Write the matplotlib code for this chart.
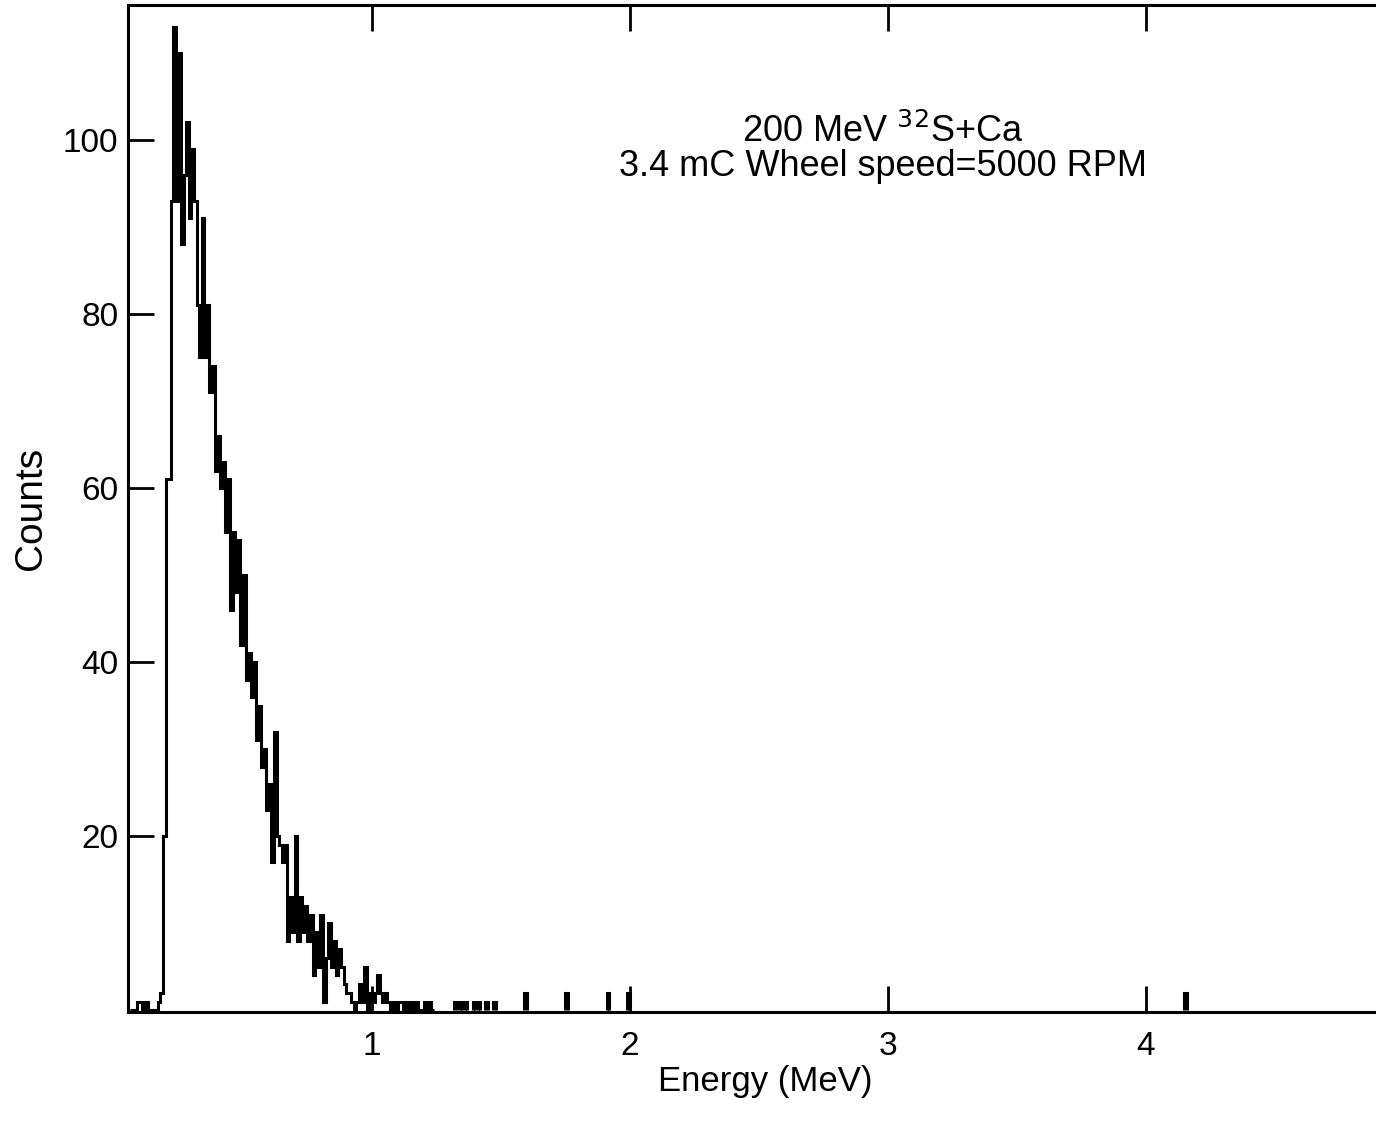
import numpy as np
import matplotlib.pyplot as plt

plt.rcParams['font.family'] = ['Liberation Sans', 'DejaVu Sans']

# histogram of counts, 0.01 MeV bins starting at 0.06 MeV
bin_start = 0.06
bin_width = 0.01
counts = [
    0, 0, 0, 1, 1, 0, 1, 0, 0, 0,          # 0.06 - 0.16
    0, 1, 2, 20, 61, 61, 93, 113, 93, 110,  # 0.16 - 0.26
    88, 96, 102, 91, 99, 93, 81, 75, 91, 75,  # 0.26 - 0.36
    81, 71, 74, 62, 66, 60, 63, 55, 61, 46,   # 0.36 - 0.46
    55, 48, 54, 42, 50, 38, 41, 36, 40, 31,   # 0.46 - 0.56
    35, 28, 30, 23, 26, 17, 32, 20, 19, 17,   # 0.56 - 0.66
    19, 8, 13, 9, 20, 8, 13, 9, 12, 8,        # 0.66 - 0.76
    11, 4, 9, 5, 11, 1, 6, 10, 5, 8,          # 0.76 - 0.86
    4, 7, 5, 3, 2, 2, 1, 0, 1, 3,             # 0.86 - 0.96
    1, 5, 0, 2, 1, 2, 4, 2, 1, 2,             # 0.96 - 1.06
    1, 0, 1, 0, 1, 1, 0, 1, 0, 1,             # 1.06 - 1.16
    0, 1, 0, 0, 1, 0, 1, 0,                   # 1.16 - 1.24
]

# isolated bins further out (bin low edge, counts)
sparse_lo = [1.32, 1.34, 1.36, 1.39, 1.41, 1.44, 1.47, 1.59, 1.75, 1.91, 1.99, 4.15]
sparse_counts = [1, 1, 1, 1, 1, 1, 1, 2, 2, 2, 2, 2]

x_ticks = [1, 2, 3, 4]
y_ticks = [20, 40, 60, 80, 100]

fig = plt.figure(figsize=(13.76, 11.24), dpi=100)
ax = fig.add_axes([0.093, 0.0996, 0.927, 0.896])

edges = bin_start + bin_width * np.arange(len(counts) + 1)
ax.stairs(counts, edges, color='black', lw=2.2, baseline=0)
for lo, c in zip(sparse_lo, sparse_counts):
    ax.stairs([c], [lo, lo + bin_width], color='black', lw=2.2, baseline=0)

ax.set_xlim(0.054, 5.0)
ax.set_ylim(-0.2, 115.5)
ax.set_xticks(x_ticks)
ax.set_yticks(y_ticks)
ax.set_xticklabels([str(t) for t in x_ticks])

ax.tick_params(direction='in', length=19, width=2, top=True, right=True,
               labelsize=24, pad=14)
ax.tick_params(axis='y', pad=7)
for s in ax.spines.values():
    s.set_linewidth(2.2)

ax.set_xlabel('Energy (MeV)', fontsize=25, labelpad=2)
ax.set_ylabel('Counts', fontsize=28, labelpad=10)

ax.text(0.592, 0.857, '200 MeV $^{32}$S+Ca\n3.4 mC Wheel speed=5000 RPM',
        transform=ax.transAxes, ha='center', va='center', fontsize=26,
        linespacing=0.95)

fig.savefig('out.png', dpi=100)
